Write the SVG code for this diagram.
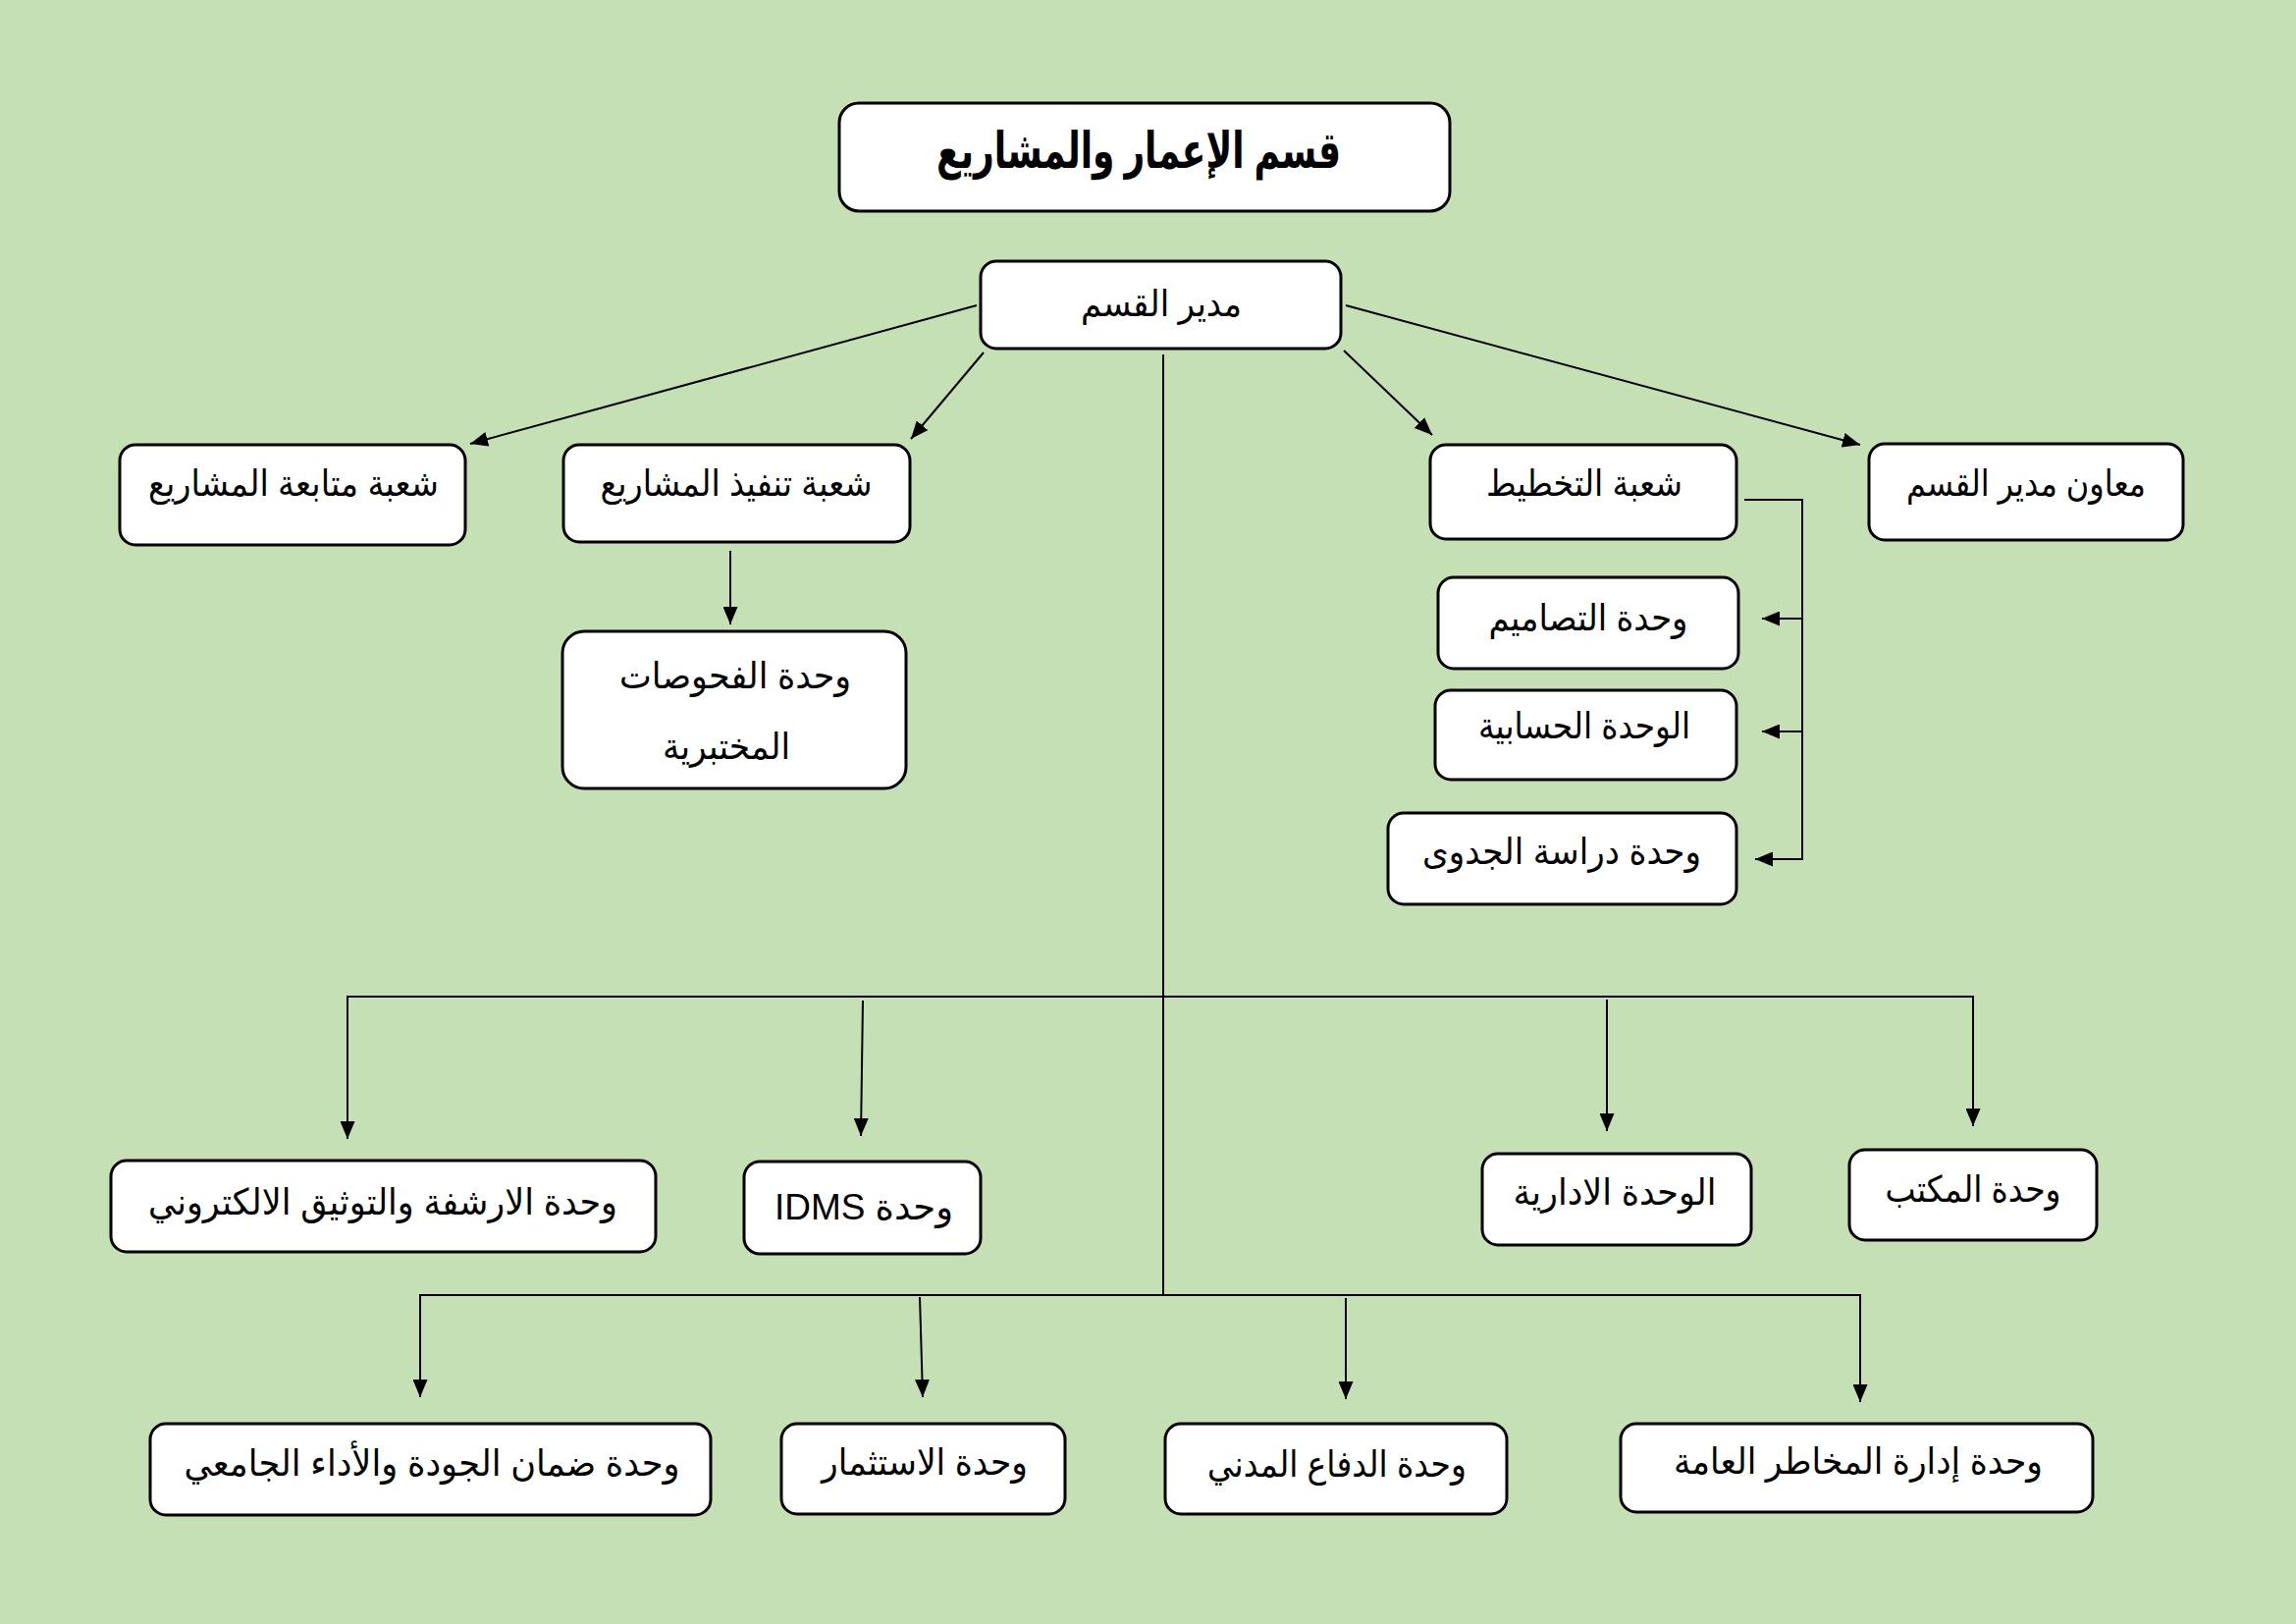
<svg xmlns="http://www.w3.org/2000/svg" width="2339" height="1654" viewBox="0 0 2339 1654">
<style>
.box{fill:#fff;stroke:#000;stroke-width:3}
.t{font-family:'Liberation Sans','DejaVu Sans',sans-serif;font-size:37px;text-anchor:middle;direction:rtl;fill:#000}
.tb{font-weight:bold;font-size:51px}
.c{fill:none;stroke:#000;stroke-width:2}
</style>
<defs>
<marker id="ah" viewBox="0 0 18 15" refX="18" refY="7.5" markerWidth="18" markerHeight="15" markerUnits="userSpaceOnUse" orient="auto">
<path d="M0,0 L18,7.5 L0,15 z" fill="#000"/>
</marker>
</defs>
<rect x="0" y="0" width="2339" height="1654" fill="#C5E0B4"/>

<g id="connectors">
<path class="c" d="M995,311 L479,452" marker-end="url(#ah)"/>
<path class="c" d="M1002,359 L928,447" marker-end="url(#ah)"/>
<path class="c" d="M1369,357 L1459,443" marker-end="url(#ah)"/>
<path class="c" d="M1371,311 L1895,453" marker-end="url(#ah)"/>
<path class="c" d="M744,561 L744,636" marker-end="url(#ah)"/>
<path class="c" d="M1777,509 L1836,509 L1836,875 L1788,875" marker-end="url(#ah)"/>
<path class="c" d="M1836,630 L1795,630" marker-end="url(#ah)"/>
<path class="c" d="M1836,745 L1795,745" marker-end="url(#ah)"/>
<path class="c" d="M1185,361 L1185,1319"/>
<path class="c" d="M354,1160 L354,1015 L2010,1015 L2010,1147" marker-end="url(#ah)"/>
<path class="c" d="M354,1016 L354,1160" marker-end="url(#ah)"/>
<path class="c" d="M879,1019 L877,1157" marker-end="url(#ah)"/>
<path class="c" d="M1637,1018 L1637,1152" marker-end="url(#ah)"/>
<path class="c" d="M428,1423 L428,1319 L1895,1319 L1895,1428" marker-end="url(#ah)"/>
<path class="c" d="M428,1320 L428,1423" marker-end="url(#ah)"/>
<path class="c" d="M937,1321 L940,1423" marker-end="url(#ah)"/>
<path class="c" d="M1371,1322 L1371,1425" marker-end="url(#ah)"/>
</g>

<g id="title">
<rect class="box" x="855" y="105" width="622" height="110" rx="20"/>
<text class="t tb" x="1160" y="171" textLength="412" lengthAdjust="spacingAndGlyphs">قسم الإعمار والمشاريع</text>
</g>
<g id="manager">
<rect class="box" x="999" y="266" width="367" height="89" rx="16"/>
<text class="t" x="1183" y="322" textLength="164" lengthAdjust="spacingAndGlyphs">مدير القسم</text>
</g>
<g id="followup">
<rect class="box" x="122" y="453" width="352" height="102" rx="16"/>
<text class="t" x="299" y="505" textLength="296" lengthAdjust="spacingAndGlyphs">شعبة متابعة المشاريع</text>
</g>
<g id="execution">
<rect class="box" x="574" y="453" width="353" height="99" rx="16"/>
<text class="t" x="750" y="505" textLength="277" lengthAdjust="spacingAndGlyphs">شعبة تنفيذ المشاريع</text>
</g>
<g id="labs">
<rect class="box" x="573" y="643" width="350" height="160" rx="22"/>
<text class="t" x="749" y="701" textLength="236" lengthAdjust="spacingAndGlyphs">وحدة الفحوصات</text>
<text class="t" x="740" y="773" textLength="130" lengthAdjust="spacingAndGlyphs">المختبرية</text>
</g>
<g id="planning">
<rect class="box" x="1457" y="453" width="312" height="96" rx="16"/>
<text class="t" x="1614" y="505" textLength="200" lengthAdjust="spacingAndGlyphs">شعبة التخطيط</text>
</g>
<g id="designs">
<rect class="box" x="1465" y="588" width="306" height="93" rx="16"/>
<text class="t" x="1618" y="642" textLength="203" lengthAdjust="spacingAndGlyphs">وحدة التصاميم</text>
</g>
<g id="accounting">
<rect class="box" x="1462" y="703" width="307" height="91" rx="16"/>
<text class="t" x="1614" y="752" textLength="216" lengthAdjust="spacingAndGlyphs">الوحدة الحسابية</text>
</g>
<g id="feasibility">
<rect class="box" x="1414" y="828" width="355" height="93" rx="16"/>
<text class="t" x="1591" y="880" textLength="284" lengthAdjust="spacingAndGlyphs">وحدة دراسة الجدوى</text>
</g>
<g id="assistant">
<rect class="box" x="1904" y="452" width="320" height="98" rx="16"/>
<text class="t" x="2064" y="505" textLength="244" lengthAdjust="spacingAndGlyphs">معاون مدير القسم</text>
</g>
<g id="archive">
<rect class="box" x="113" y="1182" width="555" height="93" rx="16"/>
<text class="t" x="390" y="1237" textLength="478" lengthAdjust="spacingAndGlyphs">وحدة الارشفة والتوثيق الالكتروني</text>
</g>
<g id="idms">
<rect class="box" x="758" y="1183" width="241" height="94" rx="16"/>
<text class="t" x="880" y="1242" textLength="182" lengthAdjust="spacingAndGlyphs">وحدة IDMS</text>
</g>
<g id="admin">
<rect class="box" x="1510" y="1175" width="274" height="93" rx="16"/>
<text class="t" x="1645" y="1227" textLength="207" lengthAdjust="spacingAndGlyphs">الوحدة الادارية</text>
</g>
<g id="office">
<rect class="box" x="1884" y="1171" width="252" height="92" rx="16"/>
<text class="t" x="2010" y="1224" textLength="179" lengthAdjust="spacingAndGlyphs">وحدة المكتب</text>
</g>
<g id="quality">
<rect class="box" x="153" y="1450" width="571" height="93" rx="16"/>
<text class="t" x="440" y="1503" textLength="505" lengthAdjust="spacingAndGlyphs">وحدة ضمان الجودة والأداء الجامعي</text>
</g>
<g id="investment">
<rect class="box" x="796" y="1450" width="289" height="92" rx="16"/>
<text class="t" x="942" y="1502" textLength="210" lengthAdjust="spacingAndGlyphs">وحدة الاستثمار</text>
</g>
<g id="civildefense">
<rect class="box" x="1187" y="1450" width="348" height="92" rx="16"/>
<text class="t" x="1362" y="1504" textLength="264" lengthAdjust="spacingAndGlyphs">وحدة الدفاع المدني</text>
</g>
<g id="risk">
<rect class="box" x="1651" y="1450" width="481" height="90" rx="16"/>
<text class="t" x="1893" y="1501" textLength="376" lengthAdjust="spacingAndGlyphs">وحدة إدارة المخاطر العامة</text>
</g>
</svg>
